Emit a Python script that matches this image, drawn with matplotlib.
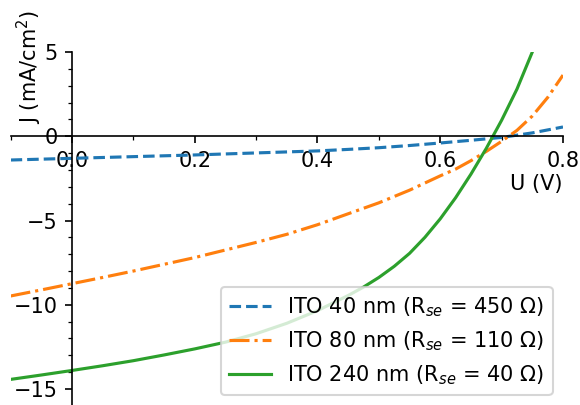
import matplotlib
matplotlib.use("Agg")
import matplotlib.pyplot as plt
from matplotlib.ticker import MultipleLocator, FormatStrFormatter

# Voltage samples (V) and current density (mA/cm^2) for each ITO thickness
v_ito40 = [-0.1, -0.05, 0.0, 0.05, 0.1, 0.15, 0.2, 0.25, 0.3, 0.35, 0.4,
           0.45, 0.5, 0.55, 0.6, 0.65, 0.7, 0.75, 0.8]
j_ito40 = [-1.41, -1.36, -1.31, -1.26, -1.21, -1.16, -1.11, -1.05, -0.99, -0.93, -0.87,
           -0.78, -0.68, -0.55, -0.40, -0.24, -0.07, 0.20, 0.55]

v_ito80 = [-0.1, -0.05, 0.0, 0.05, 0.1, 0.15, 0.2, 0.25, 0.3, 0.35, 0.4,
           0.45, 0.5, 0.55, 0.6, 0.625, 0.65, 0.675, 0.7, 0.725, 0.75, 0.775, 0.8]
j_ito80 = [-9.48, -9.12, -8.75, -8.38, -8.0, -7.6, -7.2, -6.75, -6.3, -5.82, -5.25,
           -4.6, -3.95, -3.2, -2.35, -1.95, -1.45, -0.9, -0.3, 0.35, 1.2, 2.3, 3.63]

v_ito240 = [-0.1, -0.05, 0.0, 0.05, 0.1, 0.15, 0.2, 0.25, 0.3, 0.35, 0.4,
            0.45, 0.475, 0.5, 0.525, 0.55, 0.575, 0.6, 0.625, 0.65, 0.675,
            0.7, 0.725, 0.75, 0.775]
j_ito240 = [-14.43, -14.17, -13.9, -13.62, -13.32, -12.98, -12.62, -12.22, -11.72, -11.1, -10.35,
            -9.45, -8.95, -8.38, -7.72, -6.95, -6.0, -4.9, -3.65, -2.25, -0.72,
            0.95, 2.8, 5.0, 7.5]

labels = [r"ITO 40 nm (R$_{se}$ = 450 Ω)",
          r"ITO 80 nm (R$_{se}$ = 110 Ω)",
          r"ITO 240 nm (R$_{se}$ = 40 Ω)"]

DPI = 150
fig = plt.figure(figsize=(580 / DPI, 405 / DPI), dpi=DPI)
ax = fig.add_axes([0.01828, -0.0021, 0.95241, 0.87370])

ax.plot(v_ito40, j_ito40, "--", color="C0", label=labels[0])
ax.plot(v_ito80, j_ito80, "-.", color="C1", label=labels[1])
ax.plot(v_ito240, j_ito240, "-", color="C2", label=labels[2])

ax.set_xlim(-0.1, 0.8)
ax.set_ylim(-16, 5)

# axes crossing at the origin
ax.spines["left"].set_position("zero")
ax.spines["bottom"].set_position("zero")
ax.spines["top"].set_visible(False)
ax.spines["right"].set_visible(False)

ax.xaxis.set_major_locator(MultipleLocator(0.2))
ax.xaxis.set_minor_locator(MultipleLocator(0.1))
ax.yaxis.set_major_locator(MultipleLocator(5))
ax.yaxis.set_minor_locator(MultipleLocator(1))
ax.xaxis.set_major_formatter(FormatStrFormatter("%.1f"))

ax.set_xlabel("U (V)", ha="center", va="center")
ax.xaxis.set_label_coords(0.951, 0.627)
ax.set_ylabel("J (mA/cm$^2$)", ha="center", va="center")
ax.yaxis.set_label_coords(0.0333, 0.959)

ax.legend(loc="lower right")

fig.savefig("out.png", dpi=DPI)
